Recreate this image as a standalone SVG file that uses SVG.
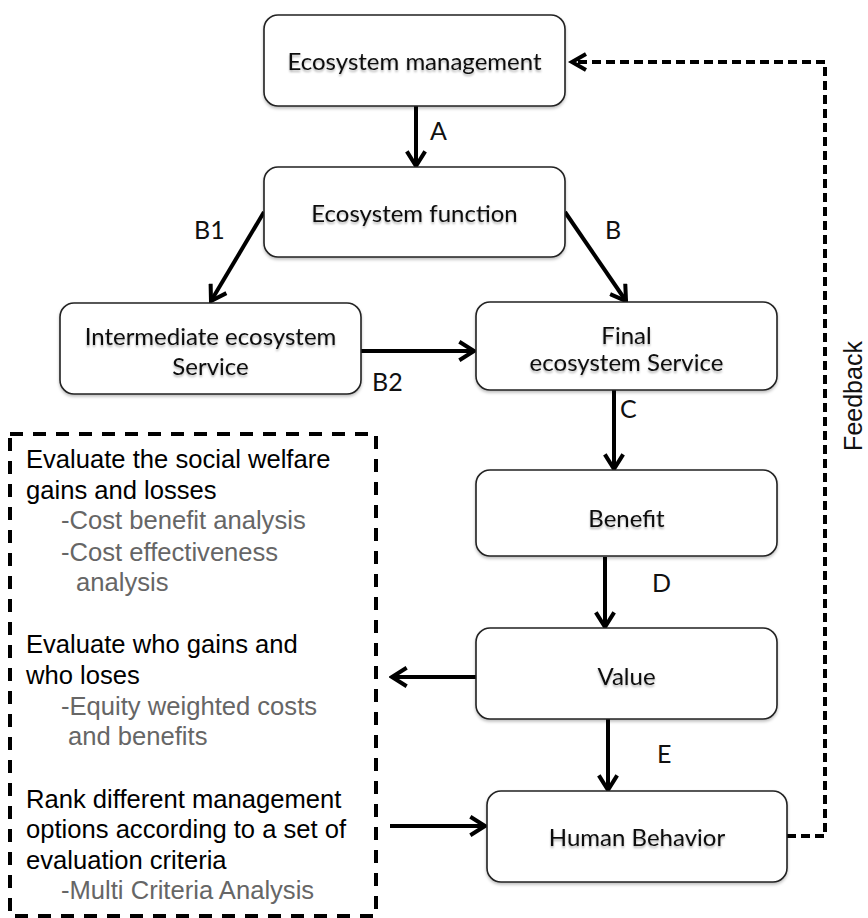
<svg xmlns="http://www.w3.org/2000/svg" width="868" height="918" viewBox="0 0 868 918">
  <style>
    .box { fill: #ffffff; stroke: #222; stroke-width: 1.6; }
    .ntext { font-family: Lato, "Open Sans", sans-serif; font-size: 24px; fill: #111; text-anchor: middle; }
    .lbl { font-family: Lato, "Open Sans", sans-serif; font-size: 25px; fill: #111; }
    .flow { fill: none; stroke: #000; stroke-width: 4; marker-end: url(#chev); }
    .dash { fill: none; stroke: #000; stroke-width: 4; stroke-dasharray: 13 10; }
    .fb { fill: none; stroke: #000; stroke-width: 4; stroke-dasharray: 9 5; }
    .ev { font-family: "Liberation Sans", Arial, sans-serif; font-size: 25.6px; fill: #000; }
    .sub { fill: #666; }
  </style>
  <defs>
    <marker id="chev" viewBox="0 0 12 12" refX="10.5" refY="6" markerWidth="5.5" markerHeight="5.5" orient="auto" markerUnits="strokeWidth">
      <path d="M2.5,1 L10.5,6 L2.5,11" fill="none" stroke="#000" stroke-width="2.2" stroke-linejoin="miter"/>
    </marker>
    <filter id="sh" x="-10%" y="-10%" width="120%" height="130%">
      <feDropShadow dx="0" dy="2" stdDeviation="1.5" flood-color="#000" flood-opacity="0.25"/>
    </filter>
    <filter id="tsh" x="-5%" y="-20%" width="110%" height="150%">
      <feDropShadow dx="0" dy="2" stdDeviation="1.2" flood-color="#000" flood-opacity="0.3"/>
    </filter>
  </defs>

  <!-- connectors -->
  <g id="connectors">
    <line class="flow" x1="416" y1="106" x2="416" y2="166"/>
    <line class="flow" x1="264" y1="212" x2="211" y2="301"/>
    <line class="flow" x1="565" y1="212" x2="626" y2="301"/>
    <line class="flow" x1="361" y1="351" x2="474" y2="351"/>
    <line class="flow" x1="614" y1="390" x2="614" y2="469"/>
    <line class="flow" x1="605" y1="557" x2="605" y2="627"/>
    <line class="flow" x1="476" y1="677" x2="392" y2="677"/>
    <line class="flow" x1="608" y1="719" x2="608" y2="790"/>
    <line class="flow" x1="390" y1="826" x2="485" y2="826"/>
    <polyline class="fb" points="787,836 825,836 825,62 572,62"/>
    <path d="M586,54 L572,62 L586,70" fill="none" stroke="#000" stroke-width="4"/>
    <text class="lbl" x="430" y="140">A</text>
    <text class="lbl" x="194" y="239">B1</text>
    <text class="lbl" x="605" y="239">B</text>
    <text class="lbl" x="372" y="391">B2</text>
    <text class="lbl" x="620" y="418">C</text>
    <text class="lbl" x="652" y="592">D</text>
    <text class="lbl" x="657" y="763">E</text>
    <text font-family="'Liberation Sans', Arial, sans-serif" font-size="25" fill="#111" text-anchor="middle" transform="translate(862,396) rotate(-90)">Feedback</text>
  </g>

  <g id="ecosystem-management">
    <rect class="box" filter="url(#sh)" x="264" y="15" width="301" height="91" rx="14"/>
    <text class="ntext" filter="url(#tsh)" x="414.5" y="70">Ecosystem management</text>
  </g>
  <g id="ecosystem-function">
    <rect class="box" filter="url(#sh)" x="264" y="167" width="301" height="90" rx="14"/>
    <text class="ntext" filter="url(#tsh)" x="414.5" y="222">Ecosystem function</text>
  </g>
  <g id="intermediate-service">
    <rect class="box" filter="url(#sh)" x="60" y="303" width="301" height="91" rx="14"/>
    <text class="ntext" filter="url(#tsh)" x="210.5" y="345">Intermediate ecosystem</text>
    <text class="ntext" filter="url(#tsh)" x="210.5" y="375">Service</text>
  </g>
  <g id="final-service">
    <rect class="box" filter="url(#sh)" x="476" y="302" width="301" height="88" rx="14"/>
    <text class="ntext" filter="url(#tsh)" x="626.5" y="344">Final</text>
    <text class="ntext" filter="url(#tsh)" x="626.5" y="371">ecosystem Service</text>
  </g>
  <g id="benefit">
    <rect class="box" filter="url(#sh)" x="476" y="470" width="301" height="86" rx="14"/>
    <text class="ntext" filter="url(#tsh)" x="626.5" y="527">Benefit</text>
  </g>
  <g id="value">
    <rect class="box" filter="url(#sh)" x="476" y="628" width="301" height="91" rx="14"/>
    <text class="ntext" filter="url(#tsh)" x="626.5" y="685">Value</text>
  </g>
  <g id="human-behavior">
    <rect class="box" filter="url(#sh)" x="487" y="791" width="300" height="91" rx="14"/>
    <text class="ntext" filter="url(#tsh)" x="637" y="846">Human Behavior</text>
  </g>

  <g id="evaluation">
    <rect class="dash" x="10" y="434" width="366" height="482"/>
    <text class="ev" x="26" y="468">Evaluate the social welfare</text>
    <text class="ev" x="26" y="499">gains and losses</text>
    <text class="ev sub" x="61" y="529">-Cost benefit analysis</text>
    <text class="ev sub" x="61" y="561">-Cost effectiveness</text>
    <text class="ev sub" x="76" y="591">analysis</text>
    <text class="ev" x="26" y="653">Evaluate who gains and</text>
    <text class="ev" x="26" y="684">who loses</text>
    <text class="ev sub" x="61" y="715">-Equity weighted costs</text>
    <text class="ev sub" x="68" y="745">and benefits</text>
    <text class="ev" x="26" y="808">Rank different management</text>
    <text class="ev" x="26" y="838">options according to a set of</text>
    <text class="ev" x="26" y="869">evaluation criteria</text>
    <text class="ev sub" x="61" y="899">-Multi Criteria Analysis</text>
  </g>
</svg>
